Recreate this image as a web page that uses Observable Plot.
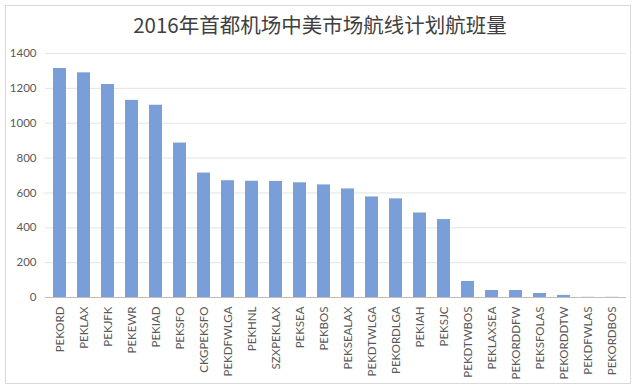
<!DOCTYPE html>
<html><head><meta charset="utf-8">
<script src="https://cdn.jsdelivr.net/npm/d3@7"></script>
<script src="https://cdn.jsdelivr.net/npm/@observablehq/plot@0.6"></script>
<style>
html,body{margin:0;padding:0;background:#fff;}
#wrap{position:relative;width:640px;height:392px;overflow:hidden;background:#fff;}
#frame{position:absolute;left:5px;top:5px;width:626px;height:379px;border:1px solid #d9d9d9;box-sizing:border-box;}
#title{position:absolute;left:0;top:10px;width:640px;text-align:center;font-family:"Noto Sans CJK SC","Noto Sans",sans-serif;font-size:20.5px;font-weight:400;color:#404040;line-height:28px;}
#chart{position:absolute;left:0;top:40px;}
</style></head>
<body><div id="wrap"><div id="frame"></div><div id="title">2016年首都机场中美市场航线计划航班量</div><div id="chart"></div></div>
<script>
const routes = ["PEKORD","PEKLAX","PEKJFK","PEKEWR","PEKIAD","PEKSFO","CKGPEKSFO","PEKDFWLGA","PEKHNL","SZXPEKLAX","PEKSEA","PEKBOS","PEKSEALAX","PEKDTWLGA","PEKORDLGA","PEKIAH","PEKSJC","PEKDTWBOS","PEKLAXSEA","PEKORDDFW","PEKSFOLAS","PEKORDDTW","PEKDFWLAS","PEKORDBOS"];
const flights = [1314,1289,1222,1131,1103,886,714,670,667,666,658,646,623,577,566,485,447,92,40,40,23,12,1,1];
const yTicks = [0,200,400,600,800,1000,1200,1400];
const data = routes.map((r,i)=>({route:r, value:flights[i]}));
const chart = Plot.plot({
  width:640, height:345,
  marginLeft:45, marginRight:14, marginTop:13, marginBottom:88,
  style:{fontFamily:"Lato, 'Liberation Sans', sans-serif", fontSize:"11.5px", color:"#595959", background:"transparent"},
  x:{domain:routes, paddingInner:0.46, paddingOuter:0.23, tickSize:0, tickPadding:9, tickRotate:-90, label:null},
  y:{domain:[0,1400], ticks:yTicks, tickFormat:d3.format("d"), tickSize:0, tickPadding:9, label:null, grid:false},
  marks:[
    Plot.ruleY(yTicks.filter(d=>d>0), {stroke:"#e3e3e3", strokeWidth:1}),
    Plot.barY(data, {x:"route", y:"value", fill:"#7a9ed7"}),
    Plot.ruleY([0], {stroke:"#bfbfbf", strokeWidth:1})
  ]
});
document.getElementById("chart").appendChild(chart);
</script></body></html>
